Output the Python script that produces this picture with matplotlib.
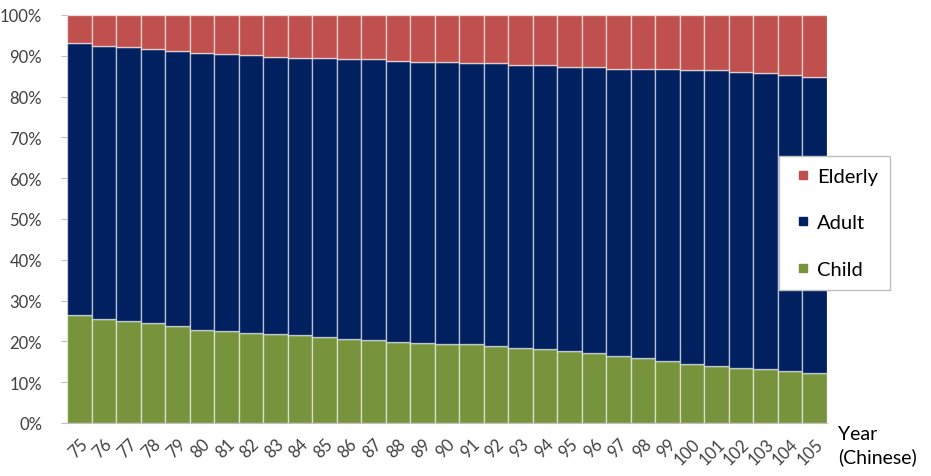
import matplotlib
matplotlib.use("Agg")
import matplotlib.pyplot as plt
from matplotlib.lines import Line2D
import numpy as np

years = [str(y) for y in range(75, 106)]
child = [26.5, 25.5, 25.1, 24.5, 23.7, 22.7, 22.6, 22.0, 21.9, 21.6, 21.2, 20.7, 20.3, 19.9, 19.7, 19.4,
         19.4, 18.9, 18.4, 18.1, 17.6, 17.1, 16.3, 15.9, 15.3, 14.5, 14.0, 13.6, 13.2, 12.7, 12.2]
child_adult = [93.1, 92.5, 92.1, 91.6, 91.2, 90.7, 90.5, 90.1, 89.8, 89.5, 89.5, 89.2, 89.1, 88.8, 88.6, 88.4,
               88.2, 88.2, 87.7, 87.7, 87.2, 87.2, 86.8, 86.8, 86.8, 86.5, 86.4, 86.1, 85.8, 85.3, 84.9]
adult = [ca - c for ca, c in zip(child_adult, child)]
elderly = [100 - ca for ca in child_adult]

c_child = "#77933C"
c_adult = "#002060"
c_eld = "#C0504D"

plt.rcParams['font.family'] = ['Lato', 'DejaVu Sans']
fig = plt.figure(figsize=(9.31, 4.77), dpi=100)
ax = fig.add_axes([67/931, 53/477, 760/931, 408/477])

x = np.arange(len(years))
ec = (1, 1, 1, 0.55)
ax.bar(x, child, width=1.0, color=c_child, edgecolor=ec, linewidth=1.0)
ax.bar(x, adult, width=1.0, bottom=child, color=c_adult, edgecolor=ec, linewidth=1.0)
ax.bar(x, elderly, width=1.0, bottom=child_adult, color=c_eld, edgecolor=ec, linewidth=1.0)

ax.set_xlim(-0.5, len(years) - 0.5)
ax.set_ylim(0, 100)
ax.set_yticks(range(0, 101, 10))
ax.set_yticklabels([f"{v}%" for v in range(0, 101, 10)], fontsize=12, color="#404040")
ax.set_xticks(x)
ax.set_xticklabels(years, rotation=45, ha="right", rotation_mode="anchor", fontsize=12, color="#404040")
ax.tick_params(axis="x", length=0, pad=9)
ax.tick_params(axis="y", length=4, color="#bfbfbf", pad=14)
for s in ["top", "right", "left"]:
    ax.spines[s].set_visible(False)
ax.spines["bottom"].set_color("#bfbfbf")

handles = [Line2D([], [], marker="s", linestyle="none", markersize=6, color=c) for c in (c_eld, c_adult, c_child)]
leg = fig.legend(handles, ["Elderly", "Adult", "Child"], loc="upper left",
                 bbox_to_anchor=(779/931, 1 - 157/477), fontsize=14.5, frameon=True,
                 fancybox=False, framealpha=1.0, borderpad=0.6, labelspacing=1.45, handletextpad=0.1,
                 handlelength=1.2, borderaxespad=0)
leg.get_frame().set_edgecolor("#bfbfbf")
leg.get_frame().set_linewidth(1.0)

fig.text(838/931, 1 - 446/477, "Year\n(Chinese)", fontsize=14, va="center", ha="left",
         color="#000000", linespacing=1.3)

fig.savefig("out.png", dpi=100)
